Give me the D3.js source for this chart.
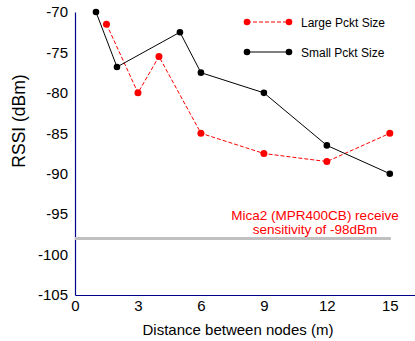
<!DOCTYPE html>
<html>
<head>
<meta charset="utf-8">
<script src="https://cdn.jsdelivr.net/npm/d3@7"></script>
<style>
  body { margin: 0; background: #fff; }
  text { font-family: "Liberation Sans", Arial, sans-serif; }
</style>
</head>
<body>
<div id="chart"></div>
<script>
var svgWidth = 415;
var svgHeight = 341;

// data
var largeX = [1.5, 3, 4, 6, 9, 12, 15];
var largeY = [-71.5, -80, -75.5, -85, -87.5, -88.5, -85];
var smallX = [1, 2, 5, 6, 9, 12, 15];
var smallY = [-70, -76.8, -72.5, -77.5, -80, -86.5, -90];
var xTicks = [0, 3, 6, 9, 12, 15];
var yTicks = [-70, -75, -80, -85, -90, -95, -100, -105];
var sensitivity = -98;
var seriesNames = ["Large Pckt Size", "Small Pckt Size"];

var svg = d3.select("#chart")
  .append("svg")
  .attr("width", svgWidth)
  .attr("height", svgHeight);

var x = d3.scaleLinear().domain([0, 16.2]).range([75, 415]);
var y = d3.scaleLinear().domain([-105, -70]).range([295, 12]);

// axes: only lines + labels, no tick marks (plain hyphen for minus)
var xAxis = svg.append("g")
  .attr("transform", "translate(0," + y(-105) + ")")
  .call(d3.axisBottom(x).tickValues(xTicks).tickFormat(d => String(d)).tickSize(0).tickPadding(5));
xAxis.select(".domain").attr("stroke", "#00008b").attr("stroke-width", 1.2);
xAxis.selectAll("text").style("font-size", "15px").attr("fill", "#000");

var yAxis = svg.append("g")
  .attr("transform", "translate(" + x(0) + ",0)")
  .call(d3.axisLeft(y).tickValues(yTicks).tickFormat(d => String(d)).tickSize(0).tickPadding(7));
yAxis.select(".domain").attr("stroke", "#00008b").attr("stroke-width", 1.2);
yAxis.selectAll("text").style("font-size", "15px").attr("fill", "#000");

// sensitivity line
svg.append("line")
  .attr("x1", x(0)).attr("x2", x(15.05))
  .attr("y1", y(sensitivity)).attr("y2", y(sensitivity))
  .attr("stroke", "#c0c0c0")
  .attr("stroke-width", 3);

svg.append("text")
  .attr("x", 315).attr("y", y(sensitivity) - 18)
  .attr("text-anchor", "middle")
  .attr("fill", "red")
  .style("font-size", "13.5px")
  .text("Mica2 (MPR400CB) receive");
svg.append("text")
  .attr("x", 315).attr("y", y(sensitivity) - 4)
  .attr("text-anchor", "middle")
  .attr("fill", "red")
  .style("font-size", "13.5px")
  .text("sensitivity of -98dBm");

var line = d3.line().x(d => x(d[0])).y(d => y(d[1]));
var large = largeX.map((v, i) => [v, largeY[i]]);
var small = smallX.map((v, i) => [v, smallY[i]]);

svg.append("path")
  .datum(large)
  .attr("d", line)
  .attr("fill", "none")
  .attr("stroke", "red")
  .attr("stroke-dasharray", "4,2")
  .attr("stroke-width", 1);

svg.append("path")
  .datum(small)
  .attr("d", line)
  .attr("fill", "none")
  .attr("stroke", "#000")
  .attr("stroke-width", 1);

svg.selectAll(".ptL").data(large).enter().append("circle")
  .attr("cx", d => x(d[0])).attr("cy", d => y(d[1]))
  .attr("r", 3.5).attr("fill", "red");
svg.selectAll(".ptS").data(small).enter().append("circle")
  .attr("cx", d => x(d[0])).attr("cy", d => y(d[1]))
  .attr("r", 3.3).attr("fill", "#000");

// legend
var legend = [
  { name: seriesNames[0], color: "red", dash: "4,2", yy: 22 },
  { name: seriesNames[1], color: "#000", dash: null, yy: 52 }
];
legend.forEach(function(l) {
  svg.append("line")
    .attr("x1", 247).attr("x2", 289)
    .attr("y1", l.yy).attr("y2", l.yy)
    .attr("stroke", l.color)
    .attr("stroke-dasharray", l.dash);
  [247, 289].forEach(function(cx) {
    svg.append("circle").attr("cx", cx).attr("cy", l.yy).attr("r", 3.3).attr("fill", l.color);
  });
  svg.append("text")
    .attr("x", 301).attr("y", l.yy + 5)
    .style("font-size", "12px")
    .text(l.name);
});

// axis titles
svg.append("text")
  .attr("x", 238).attr("y", 335)
  .attr("text-anchor", "middle")
  .style("font-size", "15px")
  .text("Distance between nodes (m)");

svg.append("text")
  .attr("transform", "translate(25,121) rotate(-90)")
  .attr("text-anchor", "middle")
  .style("font-size", "17.5px")
  .text("RSSI (dBm)");
</script>
</body>
</html>
